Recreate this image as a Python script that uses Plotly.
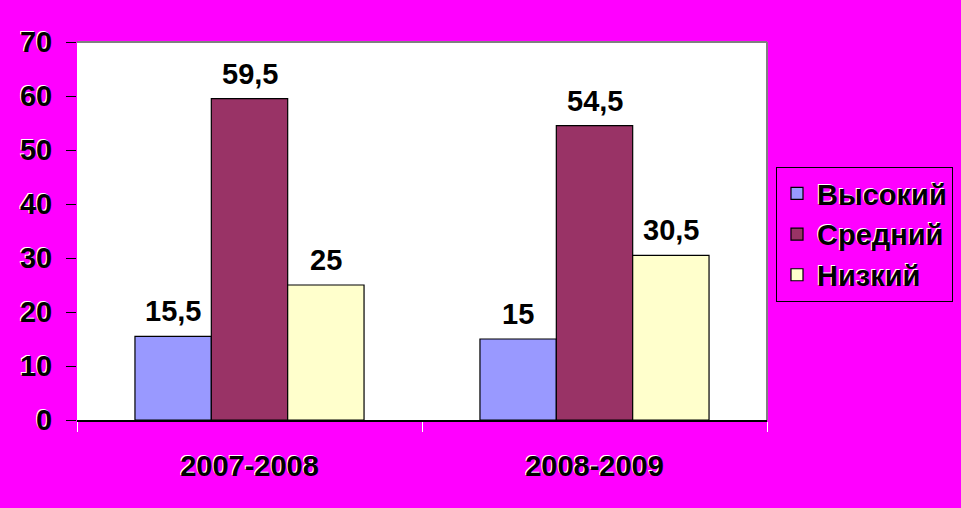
import plotly.graph_objects as go

categories = ["2007-2008", "2008-2009"]
series_names = ["Высокий", "Средний", "Низкий"]
vysokiy = [15.5, 15]
sredniy = [59.5, 54.5]
nizkiy = [25, 30.5]
series_values = [vysokiy, sredniy, nizkiy]
colors = ["#9999FF", "#993366", "#FFFFCC"]
y_ticks = [0, 10, 20, 30, 40, 50, 60, 70]

FONT = "Arial, 'Liberation Sans', sans-serif"
FS = 29
SHADOW = "-1px -1px 0px white"

W, H = 961, 508
ML, MR, MT, MB = 77, 194, 42, 88
BARGAP = 0.336

fig = go.Figure()
for name, vals, col in zip(series_names, series_values, colors):
    fig.add_trace(go.Bar(
        x=categories, y=vals, name=name, legendgroup=name,
        marker=dict(color=col, line=dict(color="black", width=1.2)),
        hoverinfo="skip",
    ))

plot_w = W - ML - MR
cat_px = plot_w / len(categories)
bar_px = cat_px * (1 - BARGAP) / len(series_names)

def fmt(v):
    s = ("%g" % v)
    return s.replace(".", ",")

annotations = []
for i, vals in enumerate(series_values):
    for c, v in zip(categories, vals):
        annotations.append(dict(
            x=c, y=v, xref="x", yref="y", text=fmt(v), showarrow=False,
            xshift=(i - 1) * bar_px, yshift=25, yanchor="middle",
            font=dict(family=FONT, size=FS, color="black", weight="bold"),
        ))

fig.update_layout(
    width=W, height=H,
    margin=dict(l=ML, r=MR, t=MT, b=MB, pad=0, autoexpand=False),
    paper_bgcolor="#FF00FF", plot_bgcolor="white",
    barmode="group", bargap=BARGAP, bargroupgap=0,
    showlegend=True,
    legend=dict(
        xref="container", yref="container",
        x=776 / W, xanchor="left",
        y=1 - 167 / H, yanchor="top",
        bgcolor="#FF00FF", bordercolor="black", borderwidth=1,
        font=dict(family=FONT, size=FS, color="black", weight="bold", shadow=SHADOW),
        tracegroupgap=9, traceorder="normal",
        itemclick=False, itemdoubleclick=False,
    ),
    annotations=annotations,
    shapes=[
        dict(type="line", xref="paper", yref="paper", x0=0, x1=1, y0=1, y1=1,
             line=dict(color="#808080", width=2), layer="below"),
        dict(type="line", xref="paper", yref="paper", x0=1, x1=1, y0=0, y1=1,
             line=dict(color="#808080", width=2), layer="below"),
    ],
)

fig.update_yaxes(
    range=[0, 70], tickvals=y_ticks, ticktext=[str(t) for t in y_ticks],
    showgrid=False, zeroline=False, showline=False,
    ticks="outside", ticklen=10, tickcolor="black", tickwidth=1,
    ticklabelstandoff=8,
    tickfont=dict(family=FONT, size=FS, color="black", weight="bold", shadow=SHADOW),
    fixedrange=True,
)
fig.update_xaxes(
    showgrid=False, zeroline=False,
    showline=True, linecolor="black", linewidth=2,
    ticks="outside", tickson="boundaries", ticklen=10, tickcolor="white", tickwidth=1,
    ticklabelstandoff=19,
    tickfont=dict(family=FONT, size=FS, color="black", weight="bold", shadow=SHADOW),
    fixedrange=True,
)

fig.write_html(
    "out.html",
    config={"displayModeBar": False},
    post_script="document.body.style.margin='0';document.body.style.background='#FF00FF';",
)
